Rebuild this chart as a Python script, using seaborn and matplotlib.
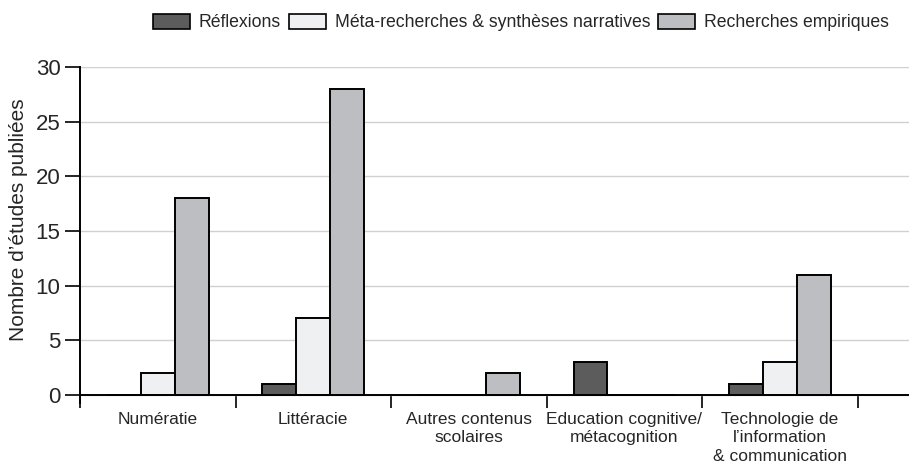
import matplotlib
matplotlib.use("Agg")
import matplotlib.pyplot as plt
import seaborn as sns
import pandas as pd
from matplotlib.patches import Patch

categories = ["Numératie", "Littéracie", "Autres contenus\nscolaires",
              "Education cognitive/\nmétacognition",
              "Technologie de\nl’information\n& communication"]
series = ["Réflexions", "Méta-recherches & synthèses narratives", "Recherches empiriques"]
reflexions = [0, 1, 0, 3, 1]
meta = [2, 7, 0, 0, 3]
empiriques = [18, 28, 2, 0, 11]
colors = ["#5c5c5c", "#eff0f2", "#bdbec1"]
yticks = [0, 5, 10, 15, 20, 25, 30]

rows = []
for s, vals in zip(series, [reflexions, meta, empiriques]):
    for c, v in zip(categories, vals):
        rows.append({"cat": c, "serie": s, "val": v})
df = pd.DataFrame(rows)

sns.set_style("white")
plt.rcParams['font.family'] = ['Liberation Sans', 'DejaVu Sans']

fig = plt.figure(figsize=(9.09, 4.69), dpi=100)
ax = fig.add_axes([80/909, 1-403/469, 1-80/909, (403-67)/469])

sns.barplot(data=df, x="cat", y="val", hue="serie", order=categories,
            hue_order=series, palette=colors, width=0.654, ax=ax,
            edgecolor="black", linewidth=1.4, saturation=1, legend=False)

ax.set_ylim(-0.73, 30)
ax.set_xlim(-0.5, 4.83)
ax.set_yticks(yticks)
ax.set_yticklabels([str(t) for t in yticks], fontsize=16)
ax.yaxis.grid(True, color="#d0d0d0", linewidth=1)
ax.set_axisbelow(True)
ax.set_xlabel("")
ax.set_ylabel("Nombre d’études publiées", fontsize=15)
ax.yaxis.set_label_coords(-0.0625, 0.545)

for s in ["top", "right"]:
    ax.spines[s].set_visible(False)
ax.spines["bottom"].set_position(("data", 0))
ax.spines["left"].set_linewidth(1.4)
ax.spines["bottom"].set_linewidth(1.4)
ax.spines["left"].set_color("black")
ax.spines["bottom"].set_color("black")

ax.tick_params(axis="y", direction="out", length=11, width=1.2, color="black", pad=3, left=True)
ax.set_xticks(range(len(categories)))
ax.set_xticklabels(categories, fontsize=12.5, linespacing=1.3)
ax.set_xticks([i - 0.5 for i in range(len(categories) + 1)], minor=True)
ax.tick_params(axis="x", which="major", length=0, pad=12)
ax.tick_params(axis="x", which="minor", direction="out", length=9, width=1.2, color="black", bottom=True)
for lbl in ax.get_xticklabels():
    lbl.set_verticalalignment("top")

handles = [Patch(facecolor=c, edgecolor="black", linewidth=1.2, label=s) for c, s in zip(colors, series)]
fig.legend(handles=handles, loc="upper center", bbox_to_anchor=(0.573, 1.005), ncol=3,
           frameon=False, fontsize=12.7, handlelength=2.1, handleheight=1.0,
           columnspacing=0.45, handletextpad=0.5)

fig.savefig("out.png", dpi=100)
